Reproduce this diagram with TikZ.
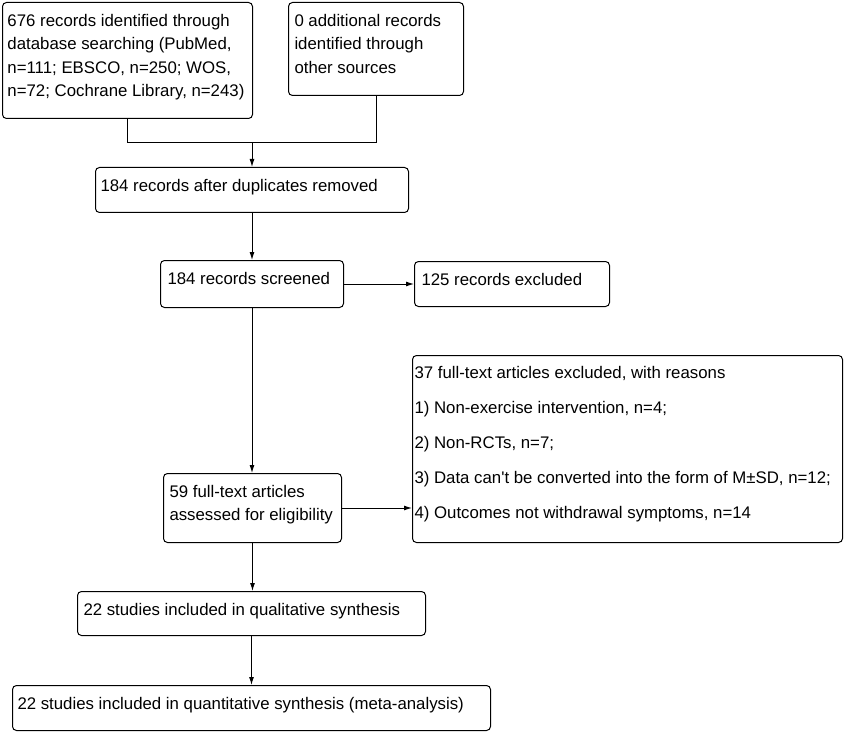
\documentclass[tikz,border=0pt]{standalone}
\usepackage{fontspec}
\setmainfont{Liberation Sans}
\usetikzlibrary{positioning,arrows.meta}

\newcommand{\boxtxt}[3]{\parbox[c][#2][t]{#1}{\rule{0pt}{24pt}#3}}

\tikzset{
  box/.style={draw, rounded corners=4pt, anchor=north west, inner xsep=6pt, inner ysep=0pt, line width=1pt},
  link/.style={line width=1pt},
  arr/.style={link, -{Latex[length=8pt,width=5pt]}}
}

\begin{document}
\begin{tikzpicture}[x=1pt, y=-1pt, font=\fontsize{16.8}{23.3}\selectfont]
\useasboundingbox (0,0) rectangle (844,733);
% identification
\node[box, inner xsep=5pt] (database) at (2,2) {\boxtxt{240pt}{116pt}{676 records identified through\\database searching (PubMed,\\n=111; EBSCO, n=250; WOS,\\n=72; Cochrane Library, n=243)}};
\node[box] (other) at (288,2) {\boxtxt{163pt}{93pt}{0 additional records\\identified through\\other sources}};
% screening
\node[box, inner xsep=5pt] (dedup) at (95,167) {\boxtxt{303pt}{45pt}{184 records after duplicates removed}};
\node[box, inner xsep=7pt] (screened) at (160,260) {\boxtxt{169pt}{47pt}{184 records screened}};
\node[box, inner xsep=7pt] (excluded) at (414,261) {\boxtxt{181pt}{45pt}{125 records excluded}};
% eligibility
\node[box] (fulltext) at (163,473) {\boxtxt{166pt}{69pt}{59 full-text articles\\assessed for eligibility}};
\node[box, inner xsep=2pt] (reasons) at (412,355) {\parbox[c][187pt][t]{426pt}{\fontsize{16.8}{35}\selectfont\rule{0pt}{23pt}37 full-text articles excluded, with reasons\\1) Non-exercise intervention, n=4;\\2) Non-RCTs, n=7;\\3) Data can\textquotesingle t be converted into the form of M±SD, n=12;\\4) Outcomes not withdrawal symptoms, n=14}};
% included
\node[box] (qualitative) at (77,591) {\boxtxt{336pt}{44pt}{22 studies included in qualitative synthesis}};
\node[box, inner xsep=5pt] (quantitative) at (12,685) {\boxtxt{468pt}{45pt}{22 studies included in quantitative synthesis (meta-analysis)}};

\coordinate (join) at ([yshift=24pt]dedup.north);
\draw[link] (database.south) |- (join);
\draw[link] (other.south) |- (join);
\draw[arr] (join) -- (dedup.north);
\draw[arr] (dedup) -- (screened);
\draw[arr] (screened) -- (excluded);
\draw[arr] (screened.south) -- (screened.south |- fulltext.north);
\draw[arr] (fulltext.east) -- (fulltext.east -| reasons.west);
\draw[arr] (fulltext.south) -- (fulltext.south |- qualitative.north);
\draw[arr] (qualitative) -- (quantitative);
\end{tikzpicture}
\end{document}
